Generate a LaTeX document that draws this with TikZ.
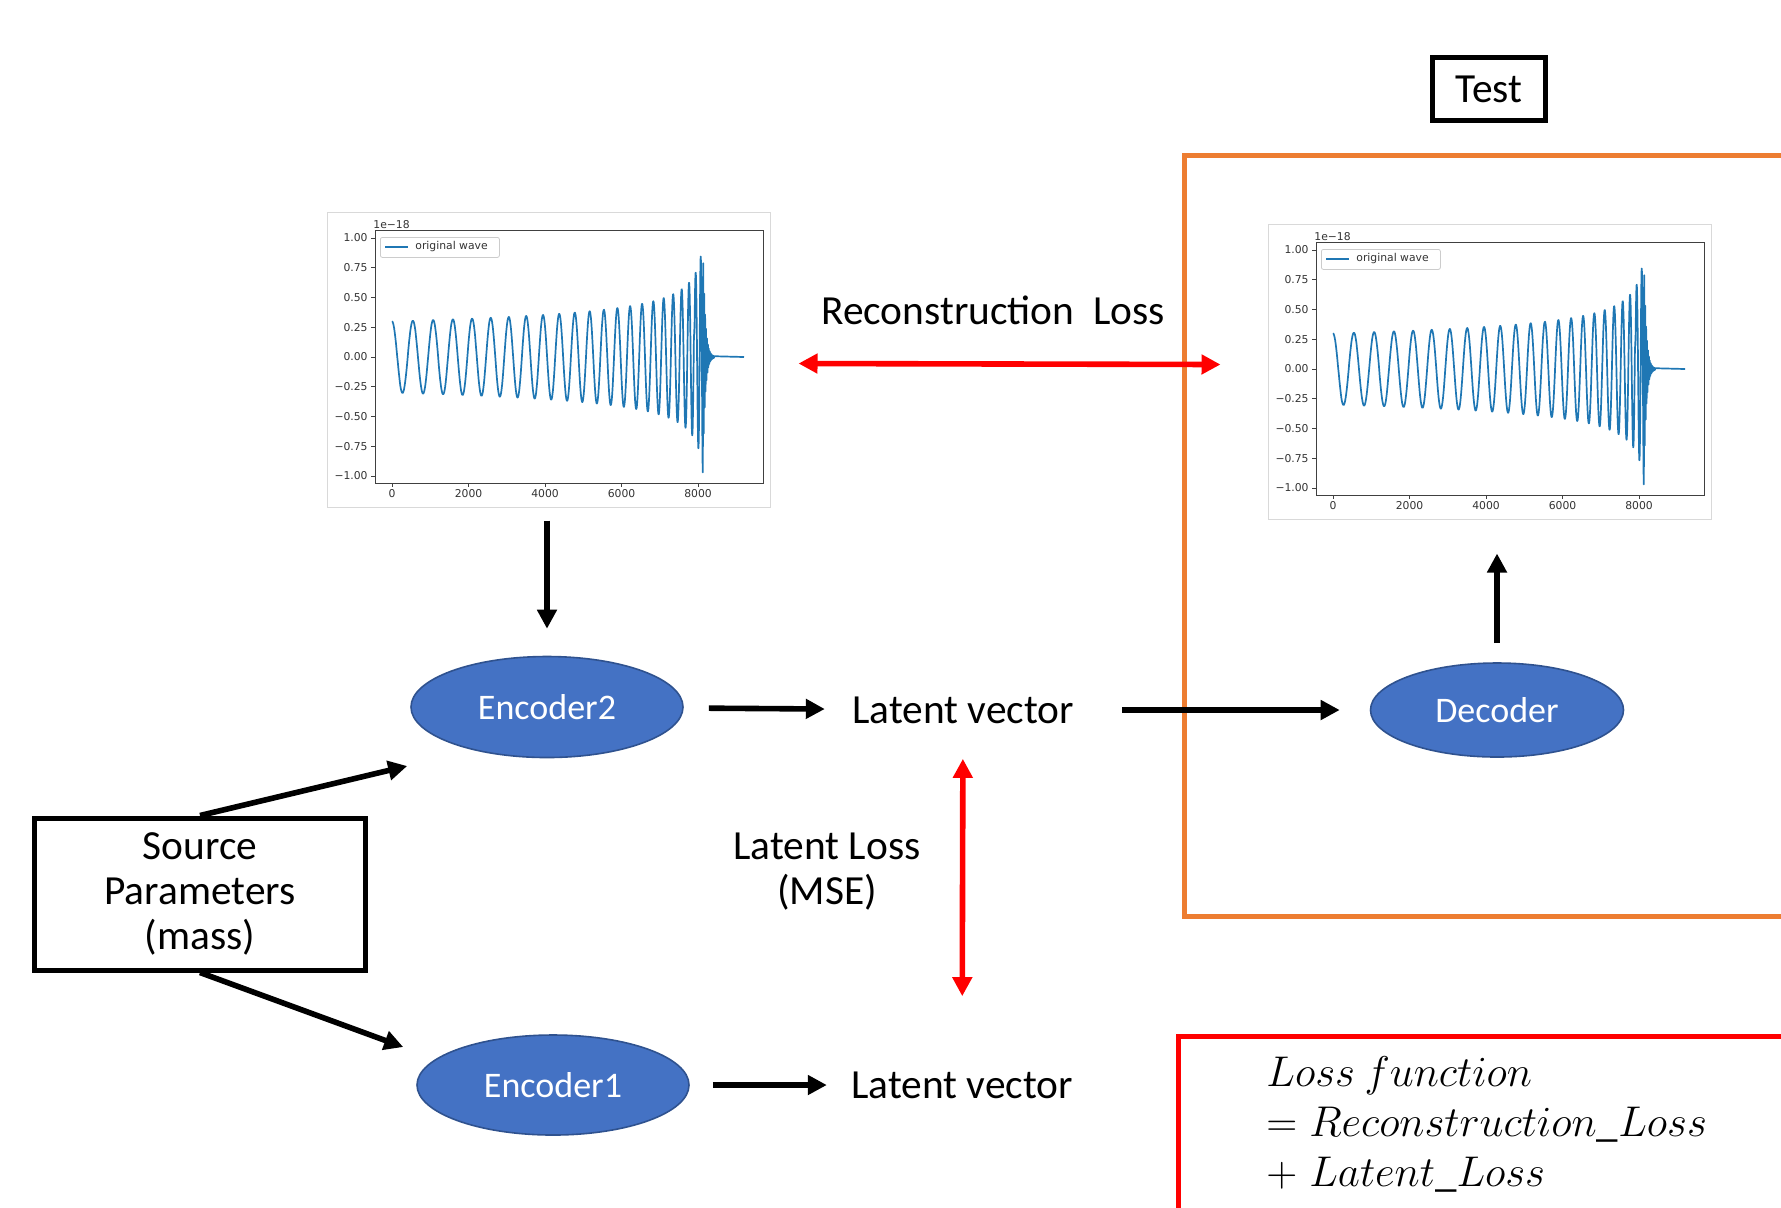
\RequirePackage{fix-cm}
\documentclass[tikz,border=0pt]{standalone}
\usepackage{fontspec}
\setmainfont{Carlito}
\newfontfamily\plotfont{DejaVu Sans}
\usetikzlibrary{shapes.geometric, arrows.meta, positioning, calc}

\definecolor{encblue}{HTML}{4472C4}
\definecolor{encedge}{HTML}{2F528F}
\definecolor{testorange}{HTML}{ED7D31}
\definecolor{lossred}{HTML}{FF0000}
\definecolor{waveblue}{HTML}{1F77B4}

% one matplotlib-like waveform panel, #1 = name of its frame node
\newcommand{\wavepanel}[1]{%
  \node[panel] (#1) at (548.5,359.5) {};
  \draw[axisline] (375,230) rectangle (763,483);
  \foreach \v/\lab [count=\k] in {1/1.00,0.75/0.75,0.5/0.50,0.25/0.25,0/0.00,-0.25/−0.25,-0.5/−0.50,-0.75/−0.75,-1/−1.00}{
    \draw[axisline] (371,{357-119*(\v)}) -- (375,{357-119*(\v)});
    \node[ticklabel, anchor=east] (#1-y\k) at (369,{357-119*(\v)}) {\lab};
  }
  \foreach \tk [count=\k] in {0,2000,4000,6000,8000}{
    \draw[axisline] ({392+0.03825*\tk},483) -- ({392+0.03825*\tk},487);
    \node[ticklabel, anchor=north] (#1-x\k) at ({392+0.03825*\tk},488) {\tk};
  }
  \node[ticklabel, anchor=south west] (#1-exp) at (372,230) {1e−18};
  \node[legendbox, anchor=north west] (#1-leg) at (380,237) {};
  \draw[wave] (385,247) -- (408,247);
  \node[ticklabel, anchor=west] (#1-legtext) at (414,247) {original wave};
  % inspiral, then ringdown, then flat
  \draw[wave] plot[domain=0:0.9468, samples=900, variable=\s]
      ({392+313.65*(1-pow(1-\s,1.6))}, {357-35.7*pow(1-\s,-0.4)*cos(8553.6*\s)})
    -- plot[domain=0:300, samples=161, variable=\q]
      ({702.8+0.03825*\q}, {357+115.4*exp(-\q/60)*cos(15*\q)})
    -- (744,357);
}

\begin{document}
\begin{tikzpicture}[x=0.5pt, y=-0.5pt,
  every node/.style={font=\fontsize{20.7}{22.5}\selectfont},
  box/.style={draw, line width=2.5pt, inner sep=0pt, align=center},
  coder/.style={ellipse, fill=encblue, draw=encedge, line width=0.8pt, text=white, inner sep=0pt, font=\fontsize{18}{20}\selectfont},
  flow/.style={-{Triangle[length=9.5pt,width=9.5pt]}, line width=2.8pt},
  lossarrow/.style={{Triangle[length=9.5pt,width=9.5pt]}-{Triangle[length=9.5pt,width=9.5pt]}, line width=2.8pt, lossred},
  panel/.style={draw=black!15, line width=0.5pt, minimum width=221.5pt, minimum height=147.5pt, inner sep=0pt},
  axisline/.style={draw=black!75, line width=0.5pt},
  ticklabel/.style={font=\plotfont\fontsize{5.4}{6}\selectfont, text=black!80, inner sep=0.5pt},
  wave/.style={waveblue, line width=0.85pt, line join=round},
  legendbox/.style={draw=black!20, rounded corners=1pt, line width=0.4pt, fill=white, minimum width=59.5pt, minimum height=10pt, inner sep=0pt}]

\clip (0,0) rectangle (1781,1207);

% the two waveform plots
\wavepanel{waveL}
\begin{scope}[shift={(941,12)}]
\wavepanel{waveR}
\end{scope}

\node[box, minimum width=56.5pt, minimum height=31.5pt] (test) at (1489,89) {Test};
\node[draw=testorange, line width=2.25pt, minimum width=320pt, minimum height=380.5pt, anchor=north west, inner sep=0pt] (testarea) at (1182,153) {};

\node[box, minimum width=165.5pt, minimum height=76pt] (source) at (200,894) {Source\\Parameters\\(mass)};

\node[coder, minimum width=136pt, minimum height=50.5pt] (enc2) at (547,707) {Encoder2};
\node[coder, minimum width=136pt, minimum height=50pt] (enc1) at (553,1085) {Encoder1};
\node[coder, minimum width=126.5pt, minimum height=47pt] (dec) at (1497,710) {Decoder};

\node[inner sep=0pt] (lat2) at (963,710) {Latent vector};
\node[inner sep=0pt] (lat1) at (962,1085) {Latent vector};
\node[inner sep=0pt] (recon) at (993,310) {Reconstruction\ \ Loss};
\node[inner sep=0pt, align=center] (latloss) at (827,872) {Latent Loss\\(MSE)};

\node[draw=lossred, line width=2.5pt, minimum width=320pt, minimum height=120pt, anchor=north west, inner sep=0pt] (lossbox) at (1176,1034) {};
\node[anchor=north west, inner sep=0pt, align=left, font=\fontsize{21.5}{25}\selectfont] (lossfn) at (1266,1056) {$Loss\ function$\\$=Reconstruction\_Loss$\\$+\;Latent\_Loss$};

% connectors
\draw[flow, shorten <=6.5pt, shorten >=13.5pt] (waveL.south -| enc2) -- (enc2);
\draw[flow, shorten <=12.5pt, shorten >=13.5pt] (enc2) -- (lat2);
\draw[flow, shorten <=24pt, shorten >=15pt] (lat2) -- (dec);
\draw[flow, shorten <=11.5pt, shorten >=12pt] (enc1) -- (lat1);
\draw[flow, shorten <=9.5pt, shorten >=17pt] (dec) -- (dec |- waveR.south);
\draw[flow] (source.north) -- ($(enc2.west)+(-3,59)$);
\draw[flow] (source.south) -- ($(enc1.west)+(-13,-38)$);

\draw[lossarrow] ($(waveL.east)+(28,4)$) -- ($(waveR.west)+(-47,-7)$);
\draw[lossarrow, shorten <=17.5pt, shorten >=37.5pt] (lat2) -- (lat1);
\end{tikzpicture}
\end{document}
